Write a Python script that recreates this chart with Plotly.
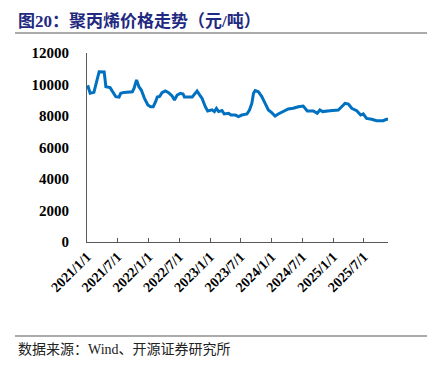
import plotly.graph_objects as go

dates = [
    "2021-01-05", "2021-01-20", "2021-02-11", "2021-03-01", "2021-03-14", "2021-04-13",
    "2021-04-23", "2021-05-18", "2021-06-01", "2021-06-21", "2021-07-10", "2021-07-20",
    "2021-08-09", "2021-09-27", "2021-10-07", "2021-10-22", "2021-11-05", "2021-11-19",
    "2021-12-08", "2021-12-28", "2022-01-13", "2022-01-29", "2022-02-12", "2022-02-22",
    "2022-03-08", "2022-03-22", "2022-04-11", "2022-04-30", "2022-05-21", "2022-06-04",
    "2022-06-20", "2022-07-09", "2022-07-25", "2022-08-02", "2022-09-17", "2022-10-06",
    "2022-10-16", "2022-11-01", "2022-11-15", "2022-12-04", "2022-12-18", "2023-01-13",
    "2023-01-27", "2023-02-08", "2023-02-21", "2023-03-13", "2023-03-26", "2023-04-21",
    "2023-05-05", "2023-05-31", "2023-06-19", "2023-07-09", "2023-08-08", "2023-08-23",
    "2023-09-06", "2023-09-16", "2023-09-26", "2023-10-15", "2023-11-04", "2023-11-24",
    "2023-12-13", "2024-01-02", "2024-01-22", "2024-02-10", "2024-03-11", "2024-04-09",
    "2024-05-09", "2024-06-08", "2024-07-07", "2024-07-31", "2024-09-05", "2024-09-28",
    "2024-10-14", "2024-10-30", "2024-12-12", "2025-01-31", "2025-02-20", "2025-03-12",
    "2025-04-01", "2025-04-21", "2025-05-20", "2025-06-13", "2025-06-28", "2025-07-18",
    "2025-08-17", "2025-09-15", "2025-10-24", "2025-11-13", "2025-11-28",
]
prices = [
    9950, 9440, 9500, 10390, 10810, 10800,
    9860, 9800, 9540, 9225, 9200, 9440,
    9500, 9540, 9750, 10290, 9860, 9650,
    9120, 8700, 8590, 8590, 8910, 9200,
    9240, 9480, 9590, 9480, 9270, 9020,
    9330, 9440, 9400, 9200, 9200, 9440,
    9590, 9330, 9120, 8590, 8320, 8390,
    8280, 8480, 8280, 8350, 8130, 8170,
    8060, 8060, 7960, 8060, 8130, 8380,
    8800, 9440, 9610, 9540, 9230, 8800,
    8380, 8210, 8000, 8130, 8320, 8450,
    8490, 8590, 8630, 8320, 8320, 8170,
    8380, 8280, 8340, 8380, 8590, 8800,
    8760, 8490, 8340, 8060, 8130, 7850,
    7790, 7700, 7700, 7790, 7790,
]
tick_dates = ["2021-01-01", "2021-07-01", "2022-01-01", "2022-07-01", "2023-01-01",
              "2023-07-01", "2024-01-01", "2024-07-01", "2025-01-01", "2025-07-01"]
tick_labels = ["2021/1/1", "2021/7/1", "2022/1/1", "2022/7/1", "2023/1/1",
               "2023/7/1", "2024/1/1", "2024/7/1", "2025/1/1", "2025/7/1"]
y_ticks = [0, 2000, 4000, 6000, 8000, 10000, 12000]

title_text = "图20：聚丙烯价格走势（元/吨）"
source_text = "数据来源：Wind、开源证券研究所"

SERIF = "Liberation Serif"
MIXED = "Liberation Serif, Noto Sans CJK SC"

fig = go.Figure()
fig.add_trace(go.Scatter(x=dates, y=prices, mode="lines",
                         line=dict(color="#0070C0", width=3), showlegend=False))

# page has an 8px body margin; margins compensate so the plot area sits at
# page x 87..388, y 53..242
fig.update_layout(
    width=435, height=371,
    margin=dict(l=79, r=55, t=45, b=137),
    paper_bgcolor="white", plot_bgcolor="white",
    xaxis=dict(
        type="date", range=["2021-01-01", "2025-11-22"], automargin=False,
        tickvals=tick_dates, ticktext=["<b>%s</b>" % t for t in tick_labels],
        tickangle=-45, tickfont=dict(family=SERIF, size=14, color="#000"),
        showgrid=False, zeroline=False, showline=True, linecolor="#595959", linewidth=1,
        ticks="inside", ticklen=4, tickcolor="#595959",
    ),
    yaxis=dict(
        range=[0, 12000], tickvals=y_ticks, automargin=False,
        ticktext=["<b>%d</b>" % v for v in y_ticks],
        tickfont=dict(family=SERIF, size=15, color="#000"), showgrid=False, zeroline=False,
        showline=True, linecolor="#595959", linewidth=1, ticks="", ticklabelstandoff=14,
    ),
)

# paper coordinates from page pixels (plot area: x 87..388, y 53..242)
def px(x):
    return (x - 87) / 301.0

def py(y):
    return (242 - y) / 189.0

fig.add_annotation(text="<b>%s</b>" % title_text, xref="paper", yref="paper",
                   x=px(16), y=py(21), xanchor="left", yanchor="middle", showarrow=False,
                   font=dict(family=MIXED, size=17, color="#1F2A80"))
fig.add_annotation(text=source_text, xref="paper", yref="paper",
                   x=px(16), y=py(349), xanchor="left", yanchor="middle", showarrow=False,
                   font=dict(family=MIXED, size=14, color="#222222"))
fig.add_shape(type="line", xref="paper", yref="paper", x0=px(15), x1=px(427),
              y0=py(33), y1=py(33), line=dict(color="#595959", width=1.2))
fig.add_shape(type="line", xref="paper", yref="paper", x0=px(15), x1=px(427),
              y0=py(336), y1=py(336), line=dict(color="#595959", width=1.2))

fig.write_html("out.html")
